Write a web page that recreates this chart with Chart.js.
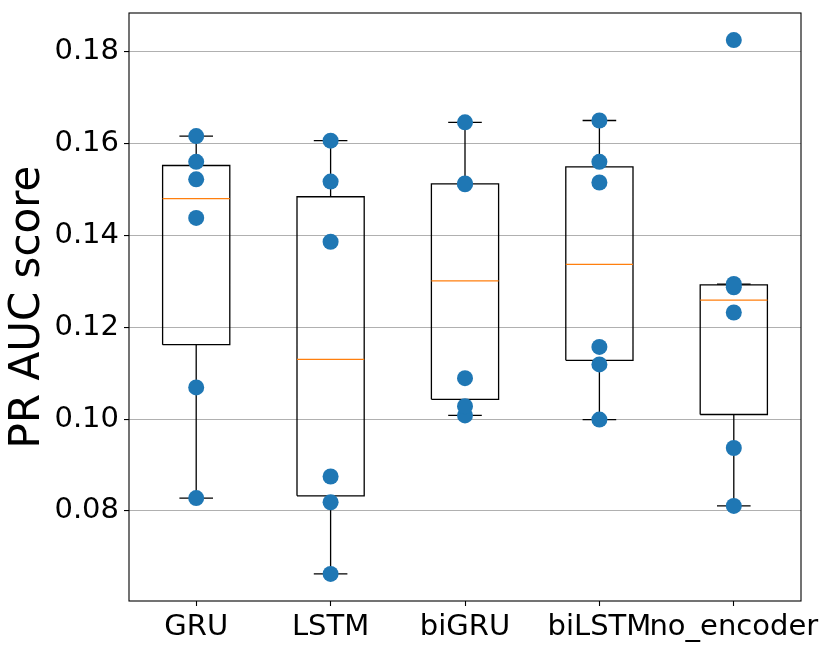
<!DOCTYPE html>
<html>
<head>
<meta charset="utf-8">
<script src="https://cdn.jsdelivr.net/npm/chart.js@4.4.0/dist/chart.umd.min.js"></script>
<style>
    body { margin: 0; background: #fff; }
    canvas { display: block; }
</style>
</head>
<body>
<canvas id="boxChart" width="830" height="649"></canvas>
<script>
const labels = ['GRU', 'LSTM', 'biGRU', 'biLSTM', 'no_encoder'];

// individual run scores, one list per model
const gruScores = [0.0828, 0.1069, 0.1438, 0.1522, 0.1560, 0.1616];
const lstmScores = [0.0663, 0.0819, 0.0875, 0.1386, 0.1517, 0.1606];
const biGruScores = [0.1008, 0.1028, 0.1089, 0.1511, 0.1513, 0.1646];
const biLstmScores = [0.0999, 0.1119, 0.1157, 0.1515, 0.1560, 0.1650];
const noEncoderScores = [0.0811, 0.0937, 0.1232, 0.1287, 0.1294, 0.1825];

// box stats
const q1 = [0.1162, 0.0833, 0.1043, 0.1128, 0.1010];
const medians = [0.1480, 0.1130, 0.1301, 0.1337, 0.1259];
const q3 = [0.1552, 0.1484, 0.1512, 0.1549, 0.1292];
const whiskerLow = [0.0828, 0.0663, 0.1008, 0.0999, 0.0811];
const whiskerHigh = [0.1616, 0.1606, 0.1646, 0.1650, 0.1294];

const yTicks = [0.08, 0.10, 0.12, 0.14, 0.16, 0.18];
const yMin = 0.0604;
const yMax = 0.1884;

const allScores = [gruScores, lstmScores, biGruScores, biLstmScores, noEncoderScores];
const boxHalf = 0.25;
const capHalf = 0.125;

const points = [];
allScores.forEach((scores, i) => {
    scores.forEach(v => points.push({x: i + 1, y: v}));
});

const medianLines = [];
const boxLines = [];
const whiskerLines = [];
const capLines = [];
labels.forEach((label, i) => {
    const x = i + 1;
    medianLines.push({x: x - boxHalf, y: medians[i]}, {x: x + boxHalf, y: medians[i]}, {x: x, y: null});
    boxLines.push(
        {x: x - boxHalf, y: q1[i]}, {x: x + boxHalf, y: q1[i]},
        {x: x + boxHalf, y: q3[i]}, {x: x - boxHalf, y: q3[i]},
        {x: x - boxHalf, y: q1[i]}, {x: x, y: null}
    );
    whiskerLines.push(
        {x: x, y: q1[i]}, {x: x, y: whiskerLow[i]}, {x: x, y: null},
        {x: x, y: q3[i]}, {x: x, y: whiskerHigh[i]}, {x: x, y: null}
    );
    capLines.push(
        {x: x - capHalf, y: whiskerLow[i]}, {x: x + capHalf, y: whiskerLow[i]}, {x: x, y: null},
        {x: x - capHalf, y: whiskerHigh[i]}, {x: x + capHalf, y: whiskerHigh[i]}, {x: x, y: null}
    );
});

function segmentSet(data, color, width) {
    return {
        data: data,
        showLine: true,
        spanGaps: false,
        borderColor: color,
        borderWidth: width,
        pointRadius: 0,
        tension: 0
    };
}

// full box around the plot like matplotlib spines
const frame = {
    id: 'frame',
    afterDraw(chart) {
        const a = chart.chartArea;
        const c = chart.ctx;
        c.save();
        c.strokeStyle = '#000';
        c.lineWidth = 1.1;
        c.strokeRect(a.left, a.top, a.right - a.left, a.bottom - a.top);
        c.restore();
    }
};

Chart.defaults.font.family = 'DejaVu Sans';
Chart.defaults.color = '#000';

const ctx = document.getElementById('boxChart').getContext('2d');
new Chart(ctx, {
    type: 'scatter',
    data: {
        datasets: [
            {
                data: points,
                backgroundColor: '#1f77b4',
                borderWidth: 0,
                pointRadius: 8,
                showLine: false
            },
            segmentSet(medianLines, '#ff7f0e', 1.3),
            segmentSet(boxLines, '#000', 1.3),
            segmentSet(whiskerLines, '#000', 1.3),
            segmentSet(capLines, '#000', 1.3)
        ]
    },
    options: {
        responsive: false,
        animation: false,
        devicePixelRatio: 1,
        layout: {
            padding: {top: 13, right: 29, bottom: 0, left: 0}
        },
        plugins: {
            legend: {display: false},
            tooltip: {enabled: false}
        },
        events: [],
        scales: {
            x: {
                type: 'linear',
                min: 0.5,
                max: 5.5,
                afterBuildTicks: scale => {
                    scale.ticks = labels.map((l, i) => ({value: i + 1}));
                },
                afterFit: scale => {
                    scale.height = 48;
                    scale.paddingLeft = 0;
                    scale.paddingRight = 0;
                },
                border: {display: false},
                grid: {
                    drawOnChartArea: false,
                    drawTicks: true,
                    tickLength: 5,
                    tickColor: '#000',
                    tickWidth: 1.1
                },
                ticks: {
                    autoSkip: false,
                    maxRotation: 0,
                    minRotation: 0,
                    padding: 4,
                    font: {size: 29},
                    callback: value => labels[value - 1]
                }
            },
            y: {
                min: yMin,
                max: yMax,
                afterBuildTicks: scale => {
                    scale.ticks = yTicks.map(v => ({value: v}));
                },
                afterFit: scale => {
                    scale.width = 129;
                    scale.paddingTop = 0;
                    scale.paddingBottom = 0;
                },
                border: {display: false},
                grid: {
                    color: '#b0b0b0',
                    lineWidth: 1.1,
                    drawTicks: true,
                    tickLength: 5,
                    tickColor: '#000',
                    tickWidth: 1.1
                },
                ticks: {
                    padding: 5,
                    font: {size: 29},
                    callback: value => value.toFixed(2)
                },
                title: {
                    display: true,
                    text: 'PR AUC score',
                    font: {size: 42},
                    padding: {top: 3, bottom: 0}
                }
            }
        }
    },
    plugins: [frame]
});
</script>
</body>
</html>
